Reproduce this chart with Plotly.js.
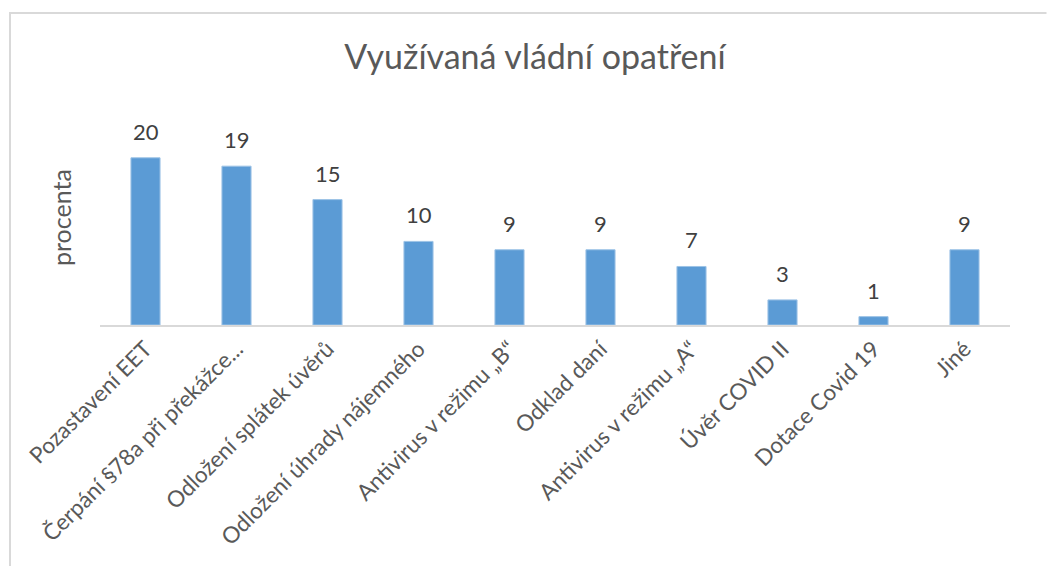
<!DOCTYPE html>
<html>
<head>
<meta charset="utf-8">
<script src="https://cdn.plot.ly/plotly-3.0.1.min.js"></script>
<style>html,body{margin:0;padding:0;background:#fff;}#chart{width:1047px;height:566px;}</style>
</head>
<body>
<div id="chart"></div>
<script>
const categories = [
  "Pozastavení EET",
  "Čerpání §78a při překážce...",
  "Odložení splátek úvěrů",
  "Odložení úhrady nájemného",
  "Antivirus v režimu „B“",
  "Odklad daní",
  "Antivirus v režimu „A“",
  "Úvěr COVID II",
  "Dotace Covid 19",
  "Jiné"
];
const values = [20, 19, 15, 10, 9, 9, 7, 3, 1, 9];
const chartTitle = "Využívaná vládní opatření";
const yTitle = "procenta";

const FONT = "Lato, 'Open Sans', sans-serif";
const W = 1047, H = 566;
const L = 100, R = 37, T = 116, B = 241;
const pw = W - L - R, ph = H - T - B;
const px2x = p => (p - L) / pw;
const py2y = p => (H - B - p) / ph;

const trace = {
  type: "bar",
  x: categories,
  y: values,
  marker: {color: "#5b9bd5", line: {color: "#9dc3e6", width: 1}},
  width: 0.32,
  hoverinfo: "x+y"
};

const valueAnnotations = categories.map((c, i) => ({
  x: c, y: values[i], xref: "x", yref: "y",
  text: String(values[i]),
  showarrow: false, yanchor: "bottom", yshift: 11,
  font: {family: FONT, size: 22, color: "#404040"}
}));

const layout = {
  width: W, height: H,
  margin: {l: L, r: R, t: T, b: B, pad: 0},
  paper_bgcolor: "#ffffff",
  plot_bgcolor: "#ffffff",
  showlegend: false,
  font: {family: FONT, color: "#595959"},
  title: {
    text: chartTitle,
    font: {family: FONT, size: 34, color: "#595959"},
    xref: "paper", x: px2x(535), xanchor: "center",
    yref: "container", y: 1 - 57 / H, yanchor: "middle"
  },
  xaxis: {
    type: "category",
    showline: true, linecolor: "#d9d9d9", linewidth: 2,
    ticks: "", showgrid: false, zeroline: false,
    tickangle: -45,
    tickfont: {family: FONT, size: 22.5, color: "#595959"},
    automargin: false
  },
  yaxis: {
    range: [0, 25], visible: false, showgrid: false, zeroline: false, fixedrange: true
  },
  annotations: valueAnnotations.concat([{
    text: yTitle, xref: "paper", yref: "paper",
    x: px2x(61), y: py2y(218), textangle: -90,
    showarrow: false, xanchor: "center", yanchor: "middle",
    font: {family: FONT, size: 25, color: "#595959"}
  }]),
  shapes: [
    {type: "line", xref: "paper", yref: "paper", x0: px2x(10), x1: px2x(10), y0: py2y(13), y1: py2y(H + 5),
     line: {color: "#d9d9d9", width: 2}},
    {type: "line", xref: "paper", yref: "paper", x0: px2x(9), x1: px2x(1046.5), y0: py2y(13), y1: py2y(13),
     line: {color: "#d9d9d9", width: 2}}
  ]
};

Plotly.newPlot("chart", [trace], layout, {displayModeBar: false, staticPlot: true});
</script>
</body>
</html>
